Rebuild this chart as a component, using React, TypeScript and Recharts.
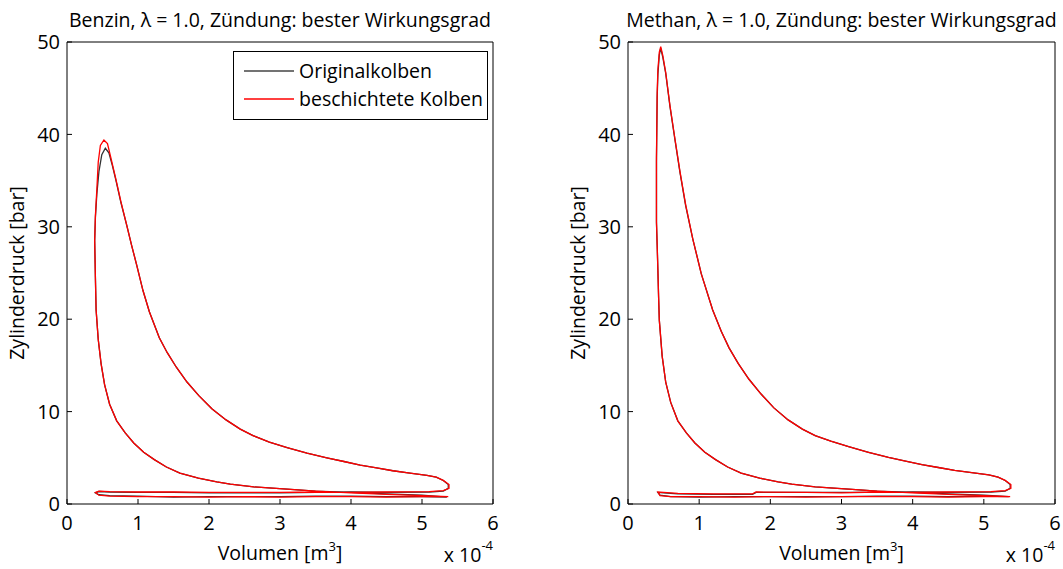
import React from 'react'
import { LineChart, Line, XAxis, YAxis, Legend } from 'recharts'

const FONT = '"Open Sans", "Noto Sans", sans-serif'

// [Volumen (x 1e-4 m^3), Zylinderdruck (bar)]
const benzinOriginal: [number, number][] = [
    [5.35, 0.75], [5.0, 0.95], [4.5, 1.1], [4.0, 1.25], [3.5, 1.4], [3.1, 1.6], [2.63, 1.85], [2.3, 2.15],
    [2.11, 2.4], [1.85, 2.8], [1.59, 3.35], [1.4, 4.0], [1.23, 4.8], [1.08, 5.6], [0.94, 6.6], [0.82, 7.7],
    [0.7, 9.0], [0.6, 10.8], [0.53, 12.9], [0.48, 15.2], [0.44, 17.8], [0.41, 21.0], [0.4, 24.5], [0.39, 28.5],
    [0.4, 31.0], [0.42, 33.5], [0.45, 36.0], [0.49, 37.8], [0.54, 38.5], [0.59, 38.0], [0.64, 36.6], [0.69, 35.0],
    [0.76, 32.6], [0.84, 30.2], [0.91, 28.0], [0.98, 25.9], [1.07, 23.1], [1.16, 20.8], [1.3, 18.0], [1.41, 16.4],
    [1.54, 14.8], [1.69, 13.2], [1.86, 11.7], [2.04, 10.3], [2.24, 9.1], [2.44, 8.1], [2.62, 7.4], [2.85, 6.7],
    [3.1, 6.1], [3.38, 5.5], [3.66, 5.0], [3.9, 4.6], [4.13, 4.2], [4.36, 3.9], [4.59, 3.6], [4.83, 3.35],
    [5.07, 3.1], [5.2, 2.9], [5.3, 2.55], [5.37, 2.1], [5.37, 1.7], [5.3, 1.4], [5.1, 1.3], [4.5, 1.25],
    [4.0, 1.3], [3.5, 1.25], [3.0, 1.2], [2.5, 1.2], [2.0, 1.2], [1.5, 1.25], [1.0, 1.25], [0.6, 1.3],
    [0.45, 1.35], [0.4, 1.2], [0.45, 1.0], [0.6, 0.9], [1.0, 0.85], [1.5, 0.75], [2.0, 0.8], [2.5, 0.8],
    [3.0, 0.8], [3.5, 0.85], [4.0, 0.85], [4.5, 0.8], [5.0, 0.8], [5.35, 0.75],
]

const benzinBeschichtet: [number, number][] = [
    [5.37, 0.8], [5.0, 0.9], [4.5, 1.05], [4.0, 1.2], [3.5, 1.4], [3.1, 1.6], [2.63, 1.85], [2.3, 2.15],
    [2.11, 2.4], [1.85, 2.8], [1.59, 3.35], [1.4, 4.0], [1.23, 4.8], [1.08, 5.6], [0.94, 6.6], [0.82, 7.7],
    [0.7, 9.0], [0.6, 10.8], [0.53, 12.9], [0.48, 15.2], [0.44, 17.8], [0.41, 21.0], [0.4, 24.5], [0.39, 28.5],
    [0.4, 31.2], [0.42, 34.0], [0.44, 37.0], [0.47, 38.8], [0.52, 39.4], [0.57, 39.0], [0.62, 37.4], [0.69, 35.1],
    [0.76, 32.7], [0.84, 30.2], [0.91, 28.0], [0.98, 25.9], [1.07, 23.1], [1.16, 20.8], [1.3, 18.0], [1.41, 16.4],
    [1.54, 14.8], [1.69, 13.2], [1.86, 11.7], [2.04, 10.3], [2.24, 9.1], [2.44, 8.1], [2.62, 7.4], [2.85, 6.7],
    [3.1, 6.1], [3.38, 5.5], [3.66, 5.0], [3.9, 4.6], [4.13, 4.2], [4.36, 3.9], [4.59, 3.6], [4.83, 3.35],
    [5.07, 3.1], [5.2, 2.9], [5.3, 2.55], [5.38, 2.1], [5.38, 1.7], [5.3, 1.45], [5.1, 1.35], [4.5, 1.3],
    [4.0, 1.25], [3.5, 1.3], [3.0, 1.25], [2.5, 1.25], [2.0, 1.25], [1.5, 1.3], [1.0, 1.3], [0.6, 1.35],
    [0.45, 1.4], [0.4, 1.25], [0.45, 0.95], [0.6, 0.85], [1.0, 0.8], [1.5, 0.8], [2.0, 0.75], [2.5, 0.8],
    [3.0, 0.75], [3.5, 0.8], [4.0, 0.8], [4.5, 0.75], [5.0, 0.8], [5.37, 0.8],
]

const methanOriginal: [number, number][] = [
    [5.35, 0.8], [5.0, 0.95], [4.5, 1.1], [4.0, 1.25], [3.5, 1.4], [3.1, 1.6], [2.63, 1.85], [2.3, 2.15],
    [2.11, 2.4], [1.85, 2.8], [1.59, 3.35], [1.4, 4.0], [1.23, 4.8], [1.08, 5.6], [0.94, 6.6], [0.82, 7.7],
    [0.7, 9.0], [0.6, 11.0], [0.53, 13.2], [0.48, 16.0], [0.44, 19.9], [0.43, 22.4], [0.42, 25.3], [0.41, 28.0],
    [0.4, 30.4], [0.4, 37.0], [0.41, 44.0], [0.42, 46.5], [0.44, 48.6], [0.46, 49.3], [0.49, 48.3], [0.53, 46.6],
    [0.59, 43.0], [0.66, 39.4], [0.73, 35.9], [0.81, 32.3], [0.91, 28.7], [1.03, 24.9], [1.19, 21.0], [1.31, 18.7],
    [1.42, 16.9], [1.55, 15.2], [1.7, 13.5], [1.87, 11.9], [2.05, 10.4], [2.25, 9.1], [2.45, 8.1], [2.63, 7.4],
    [2.85, 6.8], [3.1, 6.2], [3.38, 5.6], [3.66, 5.05], [3.9, 4.65], [4.13, 4.25], [4.36, 3.95], [4.59, 3.65],
    [4.83, 3.4], [5.07, 3.15], [5.2, 2.9], [5.3, 2.55], [5.37, 2.1], [5.37, 1.7], [5.3, 1.4], [5.1, 1.3],
    [4.5, 1.25], [4.0, 1.3], [3.5, 1.25], [3.0, 1.25], [2.5, 1.25], [1.8, 1.25], [1.75, 1.05], [1.2, 1.05],
    [0.7, 1.1], [0.5, 1.2], [0.42, 1.25], [0.45, 0.95], [0.6, 0.8], [1.0, 0.75], [1.5, 0.8], [2.0, 0.8],
    [2.5, 0.8], [3.0, 0.8], [3.5, 0.85], [4.0, 0.85], [4.5, 0.8], [5.0, 0.85], [5.35, 0.8],
]

const methanBeschichtet: [number, number][] = [
    [5.37, 0.8], [5.0, 0.9], [4.5, 1.05], [4.0, 1.2], [3.5, 1.4], [3.1, 1.6], [2.63, 1.85], [2.3, 2.15],
    [2.11, 2.4], [1.85, 2.8], [1.59, 3.35], [1.4, 4.0], [1.23, 4.8], [1.08, 5.6], [0.94, 6.6], [0.82, 7.7],
    [0.7, 9.0], [0.6, 11.0], [0.53, 13.2], [0.48, 16.0], [0.44, 19.9], [0.43, 22.4], [0.42, 25.3], [0.41, 28.0],
    [0.4, 30.6], [0.4, 37.5], [0.41, 44.5], [0.42, 47.0], [0.44, 48.9], [0.46, 49.5], [0.49, 48.5], [0.53, 46.7],
    [0.59, 43.1], [0.66, 39.5], [0.73, 36.0], [0.81, 32.4], [0.91, 28.7], [1.03, 24.9], [1.19, 21.0], [1.31, 18.7],
    [1.42, 16.9], [1.55, 15.2], [1.7, 13.5], [1.87, 11.9], [2.05, 10.4], [2.25, 9.1], [2.45, 8.1], [2.63, 7.4],
    [2.85, 6.8], [3.1, 6.2], [3.38, 5.6], [3.66, 5.05], [3.9, 4.65], [4.13, 4.25], [4.36, 3.95], [4.59, 3.65],
    [4.83, 3.4], [5.07, 3.15], [5.2, 2.9], [5.3, 2.55], [5.38, 2.1], [5.38, 1.7], [5.3, 1.45], [5.1, 1.35],
    [4.5, 1.3], [4.0, 1.25], [3.5, 1.3], [3.0, 1.2], [2.5, 1.25], [1.8, 1.3], [1.75, 1.1], [1.2, 1.1],
    [0.7, 1.15], [0.5, 1.25], [0.42, 1.3], [0.45, 0.9], [0.6, 0.8], [1.0, 0.8], [1.5, 0.75], [2.0, 0.8],
    [2.5, 0.75], [3.0, 0.8], [3.5, 0.8], [4.0, 0.8], [4.5, 0.75], [5.0, 0.8], [5.37, 0.8],
]

const xTicks = [0, 1, 2, 3, 4, 5, 6]
const yTicks = [0, 10, 20, 30, 40, 50]

const toPoints = (rows: [number, number][]) => rows.map(([v, p]) => ({ v, p }))

const tickStyle = { fill: '#000', fontSize: 20, fontFamily: FONT }

function LegendBox() {
    const row = (color: string, text: string, top: number) => (
        <div style={{ position: 'absolute', left: 0, top, height: 24, display: 'flex', alignItems: 'center', whiteSpace: 'nowrap' }}>
            <svg width={50} height={4} style={{ marginLeft: 10, display: 'block' }}>
                <line x1={0} y1={2} x2={50} y2={2} stroke={color} strokeWidth={1.5} />
            </svg>
            <span style={{ marginLeft: 5, fontSize: 19.5, fontFamily: FONT, color: '#000', lineHeight: '24px' }}>{text}</span>
        </div>
    )
    return (
        <div style={{ position: 'relative', width: 255, height: 69, border: '1px solid #000', background: '#fff', boxSizing: 'border-box' }}>
            {row('#444444', 'Originalkolben', 7)}
            {row('#ff0000', 'beschichtete Kolben', 35)}
        </div>
    )
}

interface PanelProps {
    title: string
    original: [number, number][]
    beschichtet: [number, number][]
    width: number
    marginLeft: number
    marginRight: number
    showLegend: boolean
}

function Panel({ title, original, beschichtet, width, marginLeft, marginRight, showLegend }: PanelProps) {
    return (
        <LineChart width={width} height={569} margin={{ top: 42, right: marginRight, bottom: 35, left: marginLeft }}>
            <XAxis
                dataKey="v"
                type="number"
                domain={[0, 6]}
                ticks={xTicks}
                allowDataOverflow
                height={30}
                tickSize={-5}
                tickMargin={17}
                stroke="#000"
                tick={tickStyle}
                label={{
                    content: (props: any) => {
                        const vb = props.viewBox
                        const cx = vb.x + vb.width / 2
                        const right = vb.x + vb.width
                        return (
                            <g fontFamily={FONT} fill="#000">
                                <text x={cx} y={560} textAnchor="middle" fontSize={19.5}>
                                    Volumen [m<tspan dy={-9} fontSize={13}>3</tspan><tspan dy={9}>]</tspan>
                                </text>
                                <text x={right} y={562} textAnchor="end" fontSize={19.5}>
                                    x 10<tspan dy={-12} fontSize={13}>-4</tspan>
                                </text>
                            </g>
                        )
                    },
                }}
            />
            <XAxis
                xAxisId="top"
                orientation="top"
                mirror
                type="number"
                domain={[0, 6]}
                ticks={xTicks}
                allowDataOverflow
                tickSize={5}
                tick={false}
                stroke="#000"
                label={{
                    content: (props: any) => {
                        const vb = props.viewBox
                        return (
                            <text x={vb.x + vb.width / 2} y={27} textAnchor="middle" fontSize={19.5} fontFamily={FONT} fill="#000">
                                {title}
                            </text>
                        )
                    },
                }}
            />
            <YAxis
                type="number"
                domain={[0, 50]}
                ticks={yTicks}
                allowDataOverflow
                width={40}
                tickSize={-5}
                tickMargin={12}
                stroke="#000"
                tick={tickStyle}
                label={{
                    content: (props: any) => {
                        const vb = props.viewBox
                        const x = vb.x + vb.width - 43
                        const y = vb.y + vb.height / 2
                        return (
                            <text x={x} y={y} transform={`rotate(-90, ${x}, ${y})`} textAnchor="middle" fontSize={19.5} fontFamily={FONT} fill="#000">
                                Zylinderdruck [bar]
                            </text>
                        )
                    },
                }}
            />
            <YAxis
                yAxisId="right"
                orientation="right"
                mirror
                type="number"
                domain={[0, 50]}
                ticks={yTicks}
                allowDataOverflow
                width={40}
                tickSize={5}
                tick={false}
                stroke="#000"
            />
            <Line
                data={toPoints(original)}
                dataKey="p"
                name="Originalkolben"
                type="linear"
                stroke="#333"
                strokeWidth={1.3}
                dot={false}
                isAnimationActive={false}
            />
            <Line
                data={toPoints(beschichtet)}
                dataKey="p"
                name="beschichtete Kolben"
                type="linear"
                stroke="#ff0000"
                strokeWidth={1.3}
                dot={false}
                isAnimationActive={false}
            />
            {showLegend && (
                <Legend
                    layout="vertical"
                    align="center"
                    verticalAlign="middle"
                    wrapperStyle={{ position: 'absolute', left: 233, top: 51, width: 255, height: 69 }}
                    content={() => <LegendBox />}
                />
            )}
        </LineChart>
    )
}

export default function App() {
    return (
        <div style={{ position: 'absolute', left: 0, top: 0, width: 1063, height: 569, background: '#fff' }}>
            <div style={{ position: 'absolute', left: 0, top: 0 }}>
                <Panel
                    title="Benzin, λ = 1.0, Zündung: bester Wirkungsgrad"
                    original={benzinOriginal}
                    beschichtet={benzinBeschichtet}
                    width={531}
                    marginLeft={27}
                    marginRight={38}
                    showLegend
                />
            </div>
            <div style={{ position: 'absolute', left: 531, top: 0 }}>
                <Panel
                    title="Methan, λ = 1.0, Zündung: bester Wirkungsgrad"
                    original={methanOriginal}
                    beschichtet={methanBeschichtet}
                    width={532}
                    marginLeft={57}
                    marginRight={8}
                    showLegend={false}
                />
            </div>
        </div>
    )
}
